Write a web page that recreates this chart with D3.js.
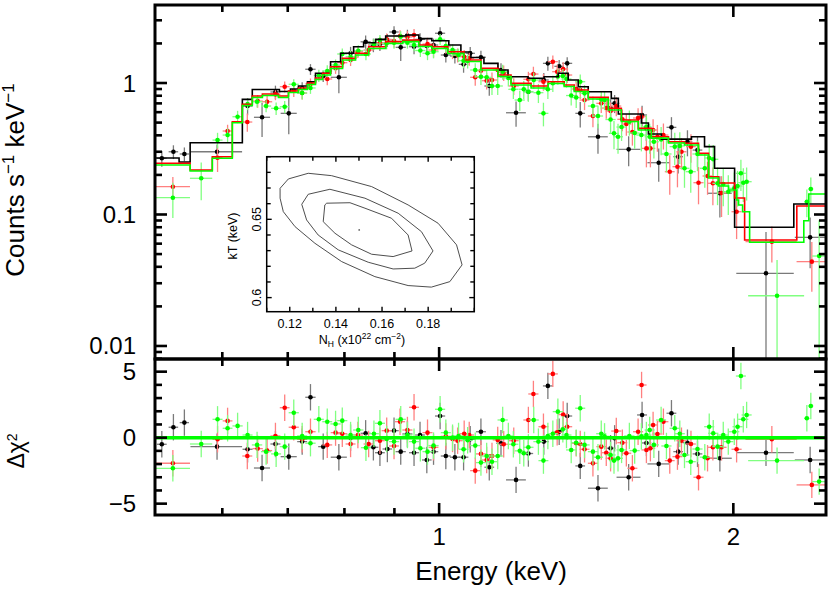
<!DOCTYPE html>
<html><head><meta charset="utf-8">
<script src="https://cdn.jsdelivr.net/npm/d3@7"></script>
<style>
body{margin:0;background:#fff;}
svg{display:block;}
text{font-family:"Liberation Sans",Arial,Helvetica,sans-serif;fill:#000;}
</style>
</head><body>
<svg id="c" width="830" height="605"></svg>
<script>
// ---------------- DATA ----------------
const xDomain = [0.512, 2.488];
const yTopDomain = [0.00796, 3.92];
const yResDomain = [-5.86, 5.96];
const xMajorTicks = [1, 2];
const xMajorLabels = ["1", "2"];
const xMinorTicks = [0.6, 0.7, 0.8, 0.9];
const yTopMajor = [0.01, 0.1, 1];
const yTopLabels = ["0.01", "0.1", "1"];
const yResMajor = [-5, 0, 5];
const yResLabels = ["\u22125", "0", "5"];

// black data group
const blackE = [0.5203,0.5347,0.5487,0.5926,0.6368,0.6589,0.680,0.7017,0.7242,0.7385,0.761,0.7896,0.8117,0.841,0.8565,0.8698,0.8852,0.8992,0.9135,0.928,0.9426,0.956,0.9714,0.9869,1.0023,1.0159,1.0378,1.0593,1.076,1.1035,1.1254,1.1569,1.1987,1.234,1.2797,1.292,1.3269,1.3522,1.3944,1.4539,1.4977,1.512,1.5629,1.6131,1.6296,1.6776,1.7287,1.7563,1.7951,1.8381,1.9376,2.16,2.3967];
const blackDE = [0.006,0.006,0.006,0.036,0.0075,0.0125,0.008,0.0133,0.0085,0.009,0.009,0.015,0.01,0.01,0.01,0.01,0.01,0.01,0.011,0.011,0.011,0.011,0.011,0.011,0.012,0.012,0.012,0.012,0.012,0.013,0.013,0.013,0.028,0.014,0.015,0.015,0.015,0.016,0.016,0.034,0.017,0.017,0.044,0.019,0.019,0.044,0.02,0.02,0.021,0.021,0.055,0.146,0.085];
const blackRate = [0.2676,0.300,0.2885,0.300,0.668,0.5485,0.8545,0.588,0.912,1.272,1.130,1.105,1.682,2.058,1.945,1.98,2.12,2.443,1.868,2.292,1.888,2.146,1.911,1.945,2.39,1.633,1.605,1.387,1.682,1.569,0.949,1.256,0.594,0.859,1.054,1.411,1.339,1.411,0.588,0.390,0.642,0.7005,0.3128,0.571,0.452,0.2477,0.46,0.2752,0.357,0.309,0.145,0.0357,0.067];
const blackErr = [0.037,0.036,0.035,0.04,0.1,0.16,0.1,0.18,0.1,0.12,0.11,0.27,0.2,0.24,0.23,0.23,0.24,0.26,0.4,0.25,0.23,0.24,0.23,0.23,0.26,0.2,0.2,0.19,0.2,0.19,0.15,0.16,0.13,0.13,0.14,0.17,0.16,0.16,0.13,0.1,0.11,0.11,0.08,0.1,0.09,0.07,0.09,0.07,0.08,0.08,0.05,0.038,0.028];
const blackRes = [-0.5,0.79,1.14,-0.68,-0.88,-2.3,-0.48,-1.44,-0.3,3.06,-0.68,-1.48,0.0,0.33,-0.73,-1.14,-0.86,0.53,-1.06,0.28,-1.14,0.2,-1.69,-1.06,1.64,-1.39,-1.48,-1.48,-0.12,0.45,-2.24,-0.42,-3.2,-1.2,-0.3,3.92,0.45,1.64,-2.14,-3.83,-0.8,-0.05,-3.0,1.72,-0.4,-1.99,1.85,-1.06,-0.38,-1.23,-1.56,-1.14,-1.69];

// red data group
const redE = [0.534,0.5933,0.6075,0.6364,0.6521,0.6668,0.680,0.695,0.71,0.7242,0.7385,0.7683,0.7835,0.796,0.8117,0.8258,0.847,0.8698,0.8838,0.8992,0.912,0.928,0.9426,0.973,0.9869,1.0159,1.0321,1.0445,1.0608,1.0735,1.0888,1.1035,1.1185,1.1326,1.148,1.1643,1.1922,1.234,1.2487,1.2786,1.3072,1.3206,1.3394,1.3522,1.3812,1.3944,1.4086,1.4367,1.4652,1.4826,1.4977,1.518,1.5398,1.5544,1.5767,1.598,1.6112,1.6296,1.645,1.6555,1.6724,1.6963,1.7218,1.7533,1.77,1.81,1.8425,1.8821,1.9059,1.9453,2.0155,2.19,2.4063];
const redDE = [0.022,0.007,0.007,0.0075,0.008,0.008,0.008,0.008,0.0085,0.0085,0.009,0.009,0.009,0.0095,0.0095,0.01,0.01,0.01,0.0105,0.0105,0.011,0.011,0.011,0.0115,0.0115,0.012,0.012,0.0125,0.0125,0.0125,0.013,0.013,0.013,0.0135,0.0135,0.014,0.014,0.0145,0.015,0.015,0.0155,0.0155,0.016,0.016,0.016,0.0165,0.0165,0.017,0.017,0.0175,0.0175,0.018,0.018,0.018,0.0185,0.019,0.019,0.019,0.019,0.0195,0.0195,0.02,0.02,0.0205,0.021,0.021,0.022,0.022,0.022,0.023,0.024,0.132,0.085];
const redRate = [0.1627,0.2704,0.4314,0.505,0.729,0.720,0.820,0.9376,0.874,0.839,0.983,1.0726,1.294,1.427,1.496,1.730,1.782,2.025,2.146,2.083,2.28,2.24,2.32,1.979,1.782,1.888,1.730,1.633,1.585,1.541,1.105,1.2406,1.041,1.054,1.256,1.198,0.949,1.067,1.170,1.023,1.452,1.219,1.278,1.15,0.9007,0.885,0.742,0.561,0.7005,0.645,0.612,0.668,0.5295,0.4875,0.4239,0.5417,0.554,0.3183,0.3183,0.439,0.390,0.402,0.2116,0.2309,0.300,0.328,0.1745,0.1962,0.1727,0.1457,0.105,0.0621,0.0438];
const redErr = [0.03,0.06,0.05,0.08,0.08,0.08,0.08,0.09,0.09,0.09,0.1,0.11,0.12,0.13,0.15,0.18,0.19,0.22,0.23,0.23,0.24,0.24,0.25,0.23,0.22,0.22,0.21,0.2,0.2,0.19,0.15,0.17,0.15,0.15,0.17,0.16,0.14,0.15,0.16,0.15,0.17,0.16,0.16,0.15,0.13,0.13,0.12,0.1,0.11,0.11,0.1,0.11,0.1,0.09,0.09,0.1,0.1,0.09,0.09,0.09,0.09,0.09,0.07,0.07,0.08,0.08,0.055,0.055,0.055,0.05,0.04,0.019,0.018];
const redRes = [-1.94,-0.12,1.27,-1.39,-0.83,-0.98,0.13,2.27,0.79,-0.12,0.45,-0.55,0.38,0.3,-0.48,0.2,-0.48,-0.23,0.53,-0.63,1.21,0.58,2.3,0.38,-0.73,0.1,-0.1,-0.23,0.3,0.2,-2.5,-1.23,-1.69,-1.39,-0.17,-0.5,-0.23,1.34,3.31,0.83,4.83,0.4,1.75,0.83,-0.42,-0.48,-0.88,-1.94,-0.68,-1.14,-1.56,0.5,-0.38,-1.18,-2.32,0.45,3.99,-0.93,-0.8,0.96,0.28,1.21,-1.74,-1.44,-0.23,-0.48,-3.0,-1.56,-0.73,-0.73,-0.88,-0.12,-3.58];

// green data group
const greenE = [0.534,0.5709,0.5933,0.6075,0.622,0.6368,0.6512,0.6652,0.6811,0.695,0.71,0.7242,0.7385,0.7532,0.7683,0.7835,0.796,0.8117,0.8266,0.8416,0.8576,0.8698,0.8838,0.8992,0.9135,0.928,0.9426,0.9567,0.973,0.9869,1.0023,1.0159,1.0321,1.0468,1.0593,1.0695,1.0888,1.1035,1.1185,1.1326,1.148,1.1615,1.1771,1.1911,1.2092,1.2207,1.234,1.2497,1.2635,1.2786,1.292,1.3072,1.3228,1.3384,1.3499,1.365,1.3812,1.3944,1.4086,1.4367,1.4539,1.4652,1.4766,1.4977,1.5098,1.5242,1.537,1.5655,1.5852,1.6104,1.6296,1.6423,1.6586,1.6871,1.7084,1.7422,1.763,1.7826,1.8091,1.8381,1.87,1.8896,1.9076,1.927,1.9531,1.9764,2.0045,2.0202,2.036,2.0475,2.0637,2.217,2.3782,2.4006,2.4481];
const greenDE = [0.022,0.015,0.007,0.007,0.0075,0.0075,0.008,0.008,0.008,0.008,0.0085,0.0085,0.009,0.009,0.009,0.0095,0.0095,0.0095,0.01,0.01,0.01,0.0105,0.0105,0.011,0.011,0.011,0.011,0.0115,0.0115,0.012,0.012,0.012,0.0125,0.0125,0.0125,0.013,0.013,0.013,0.0135,0.0135,0.014,0.014,0.014,0.014,0.0145,0.0145,0.015,0.015,0.015,0.015,0.0155,0.0155,0.016,0.016,0.016,0.0165,0.0165,0.0165,0.017,0.017,0.0175,0.0175,0.0175,0.018,0.018,0.018,0.0185,0.019,0.019,0.019,0.0195,0.0195,0.02,0.02,0.0205,0.021,0.021,0.021,0.0215,0.022,0.022,0.0225,0.023,0.023,0.0235,0.0235,0.024,0.024,0.024,0.0245,0.0245,0.146,0.014,0.014,0.04];
const greenRate = [0.1342,0.1885,0.368,0.402,0.554,0.692,0.720,0.668,0.642,0.660,0.978,0.839,0.9166,1.14,1.234,1.37,1.662,1.585,1.760,1.662,1.979,2.12,2.004,2.025,2.26,2.025,1.945,1.766,1.682,1.730,2.146,1.911,1.782,1.633,1.478,1.470,1.256,1.116,1.105,0.949,0.949,1.219,1.0916,0.896,0.742,0.896,0.859,1.054,0.844,0.588,0.896,0.995,1.12,1.130,1.0726,0.803,0.775,1.023,0.834,0.668,0.561,0.751,0.742,0.5276,0.414,0.390,0.4625,0.5077,0.4163,0.402,0.465,0.390,0.357,0.3726,0.2885,0.328,0.332,0.2246,0.2116,0.2885,0.2246,0.269,0.2629,0.1727,0.1706,0.1491,0.1582,0.1647,0.2057,0.1745,0.1776,0.0241,0.1251,0.1563,0.0483];
const greenErr = [0.04,0.06,0.05,0.05,0.06,0.07,0.07,0.07,0.07,0.07,0.09,0.09,0.09,0.12,0.13,0.14,0.17,0.17,0.18,0.17,0.19,0.2,0.2,0.2,0.21,0.2,0.2,0.19,0.19,0.19,0.21,0.2,0.19,0.19,0.18,0.18,0.16,0.15,0.15,0.14,0.14,0.16,0.15,0.14,0.13,0.14,0.14,0.15,0.14,0.12,0.14,0.14,0.15,0.15,0.15,0.13,0.13,0.14,0.13,0.12,0.11,0.12,0.12,0.11,0.1,0.1,0.1,0.11,0.1,0.1,0.1,0.1,0.09,0.09,0.08,0.09,0.09,0.065,0.065,0.075,0.065,0.075,0.075,0.055,0.055,0.05,0.05,0.05,0.055,0.05,0.05,0.021,0.03,0.035,0.042];
const greenRes = [-2.32,-0.48,1.39,0.71,0.89,0.2,-0.55,-1.06,-1.23,-0.68,1.89,0.13,-0.42,1.39,1.21,1.04,1.29,0.2,0.58,-0.76,0.3,1.09,-0.1,-0.3,1.39,0.2,-0.3,-0.8,-1.06,-0.6,2.15,0.38,0.0,0.13,-0.88,-0.2,-0.6,-1.89,-1.39,-1.82,-1.39,1.34,0.13,-0.5,-1.0,-1.18,-0.73,1.34,-0.3,-1.74,0.13,0.3,1.97,0.64,0.2,-0.93,-0.38,2.23,-0.55,-1.06,-1.48,0.3,0.1,-1.31,-1.74,-1.56,-0.93,0.13,-0.98,0.1,0.2,0.58,-0.55,1.34,-0.63,0.71,0.3,-1.31,-1.82,-0.86,-1.48,0.83,0.33,-0.68,0.2,-0.3,0.45,0.83,4.67,1.39,1.72,-1.74,1.47,2.4,-3.33];

// folded models (step functions: bin edges + bin values)
const blackModelEdges = [0.5121,0.5419,0.5562,0.629,0.6439,0.6864,0.7045,0.7179,0.7333,0.7473,0.7743,0.7928,0.8175,0.837,0.8611,0.8817,0.9244,0.9532,0.9829,1.0231,1.0526,1.0778,1.1113,1.1487,1.1762,1.2331,1.2806,1.3237,1.3554,1.3878,1.4209,1.5002,1.5253,1.6104,1.6373,1.6883,1.8122,1.8688,1.9135,2.006,2.3062,2.49];
const blackModel = [0.269,0.2508,0.351,0.751,0.893,0.862,0.9007,0.949,1.023,1.185,1.452,1.682,1.888,2.022,2.146,2.28,2.32,2.177,2.094,1.945,1.721,1.563,1.411,1.256,1.116,1.086,1.116,1.185,1.054,0.9376,0.859,0.764,0.581,0.496,0.409,0.3745,0.390,0.328,0.2246,0.0799,0.1202];
const redModelEdges = [0.5121,0.5562,0.586,0.6143,0.629,0.6439,0.6594,0.6848,0.7012,0.7179,0.7333,0.7473,0.7598,0.7743,0.7966,0.8213,0.847,0.8817,0.9178,0.9532,0.9829,1.0207,1.0601,1.1035,1.1487,1.1846,1.2419,1.2928,1.3426,1.3747,1.4209,1.4896,1.5361,1.599,1.6489,1.7165,1.7826,1.8425,1.8866,1.9316,2.006,2.0539,2.3226,2.49];
const redModel = [0.2451,0.218,0.2752,0.5077,0.6884,0.796,0.824,0.796,0.8696,0.9166,1.0,1.0916,1.185,1.33,1.541,1.682,1.888,2.058,2.12,1.945,1.888,1.730,1.496,1.294,1.15,0.995,0.949,1.023,0.966,0.885,0.778,0.642,0.523,0.452,0.390,0.357,0.348,0.292,0.1938,0.1736,0.1335,0.064,0.116];
const greenModelEdges = [0.5121,0.5562,0.586,0.6143,0.629,0.6439,0.6594,0.6848,0.7012,0.7179,0.7333,0.7473,0.7598,0.7743,0.7966,0.8213,0.847,0.8817,0.9178,0.9532,0.9829,1.0207,1.0601,1.1035,1.1487,1.1846,1.2419,1.2928,1.3426,1.3747,1.4209,1.4896,1.5361,1.599,1.6489,1.7165,1.7826,1.8425,1.8866,1.9316,1.9777,2.0155,2.025,2.0442,2.0783,2.3613,2.3893,2.49];
const greenModel = [0.2379,0.2142,0.2676,0.4989,0.674,0.7753,0.803,0.7753,0.847,0.893,0.9745,1.0633,1.15,1.2895,1.496,1.633,1.8296,1.997,2.065,1.894,1.83,1.677,1.457,1.256,1.12,0.966,0.9166,0.9918,0.941,0.862,0.755,0.623,0.5094,0.439,0.381,0.350,0.338,0.2835,0.1895,0.1647,0.1536,0.1289,0.1181,0.105,0.0615,0.0897,0.1432];

// inset: confidence contours NH vs kT
const insetXDomain = [0.11, 0.2];
const insetYDomain = [0.591, 0.69];
const insetXMajor = [0.12, 0.14, 0.16, 0.18];
const insetXLabels = ["0.12", "0.14", "0.16", "0.18"];
const insetYMajor = [0.6, 0.65];
const insetYLabels = ["0.6", "0.65"];
const contourOuter = [[0.1158,0.6698],[0.1194,0.6758],[0.1280,0.6794],[0.1381,0.6779],[0.1555,0.6709],[0.1713,0.6592],[0.1843,0.6475],[0.1923,0.6337],[0.1947,0.6209],[0.1894,0.6102],[0.1814,0.6067],[0.1713,0.6077],[0.1569,0.6134],[0.1425,0.6230],[0.1309,0.6347],[0.1223,0.6453],[0.1172,0.6549],[0.1158,0.6635]];
const contourMid = [[0.1252,0.6596],[0.1280,0.6660],[0.1374,0.6692],[0.1526,0.6635],[0.1670,0.6539],[0.1771,0.6421],[0.1821,0.6298],[0.1785,0.6220],[0.1742,0.6188],[0.1648,0.6183],[0.1540,0.6226],[0.1410,0.6305],[0.1323,0.6400],[0.1273,0.6496]];
const contourInner = [[0.1360,0.6603],[0.1461,0.6606],[0.1526,0.6571],[0.1641,0.6507],[0.1713,0.6400],[0.1730,0.6298],[0.1648,0.6262],[0.1555,0.6277],[0.1468,0.6337],[0.1396,0.6411],[0.1345,0.6485],[0.1352,0.6592]];
const bestFit = [0.1501, 0.6432];

// ---------------- LAYOUT ----------------
const W = 830, H = 605;
const L = 155, R = 826, T = 5, M = 359, B = 515;
const x = d3.scaleLog().domain(xDomain).range([L, R]);
const yT = d3.scaleLog().domain(yTopDomain).range([M, T]);
const yR = d3.scaleLinear().domain(yResDomain).range([B, M]);

const svg = d3.select('#c');
svg.append('rect').attr('width', W).attr('height', H).attr('fill', '#fff');
const defs = svg.append('defs');
defs.append('clipPath').attr('id', 'clipT').append('rect').attr('x', L).attr('y', T).attr('width', R - L).attr('height', M - T);
defs.append('clipPath').attr('id', 'clipR').append('rect').attr('x', L).attr('y', M).attr('width', R - L).attr('height', B - M);
const gT = svg.append('g').attr('clip-path', 'url(#clipT)');
const gR = svg.append('g').attr('clip-path', 'url(#clipR)');

const series = [
  {E: blackE, dE: blackDE, rate: blackRate, err: blackErr, res: blackRes, edges: blackModelEdges, model: blackModel, col: '#000000', ecol: '#7a7a7a'},
  {E: redE, dE: redDE, rate: redRate, err: redErr, res: redRes, edges: redModelEdges, model: redModel, col: '#ff0000', ecol: '#ff8080'},
  {E: greenE, dE: greenDE, rate: greenRate, err: greenErr, res: greenRes, edges: greenModelEdges, model: greenModel, col: '#00ff00', ecol: '#80ff80'}
];

series.forEach(s => {
  const idx = d3.range(s.E.length);
  // top panel error bars
  const ge = gT.append('g').attr('stroke', s.ecol).attr('stroke-width', 1.3);
  ge.append('g').selectAll('line').data(idx).join('line')
    .attr('x1', i => x(s.E[i])).attr('x2', i => x(s.E[i]))
    .attr('y1', i => { const lo = s.rate[i] - s.err[i]; return lo > yTopDomain[0] ? yT(lo) : M + 5; })
    .attr('y2', i => yT(s.rate[i] + s.err[i]));
  ge.append('g').selectAll('line').data(idx).join('line')
    .attr('x1', i => x(s.E[i] - s.dE[i])).attr('x2', i => x(s.E[i] + s.dE[i]))
    .attr('y1', i => yT(s.rate[i])).attr('y2', i => yT(s.rate[i]));
  gT.append('g').selectAll('circle').data(idx).join('circle')
    .attr('cx', i => x(s.E[i])).attr('cy', i => yT(s.rate[i])).attr('r', 2.3).attr('fill', s.col);
  // residual panel
  const gr = gR.append('g').attr('stroke', s.ecol).attr('stroke-width', 1.3);
  gr.append('g').selectAll('line').data(idx).join('line')
    .attr('x1', i => x(s.E[i])).attr('x2', i => x(s.E[i]))
    .attr('y1', i => yR(s.res[i] - 1)).attr('y2', i => yR(s.res[i] + 1));
  gr.append('g').selectAll('line').data(idx).join('line')
    .attr('x1', i => x(s.E[i] - s.dE[i])).attr('x2', i => x(s.E[i] + s.dE[i]))
    .attr('y1', i => yR(s.res[i])).attr('y2', i => yR(s.res[i]));
  gR.append('g').selectAll('circle').data(idx).join('circle')
    .attr('cx', i => x(s.E[i])).attr('cy', i => yR(s.res[i])).attr('r', 2.3).attr('fill', s.col);
});

// model step lines
const stepLine = d3.line().x(d => x(d[0])).y(d => yT(d[1])).curve(d3.curveStepAfter);
series.forEach(s => {
  const pts = s.edges.map((e, i) => [e, s.model[Math.min(i, s.model.length - 1)]]);
  gT.append('path').attr('d', stepLine(pts)).attr('fill', 'none').attr('stroke', s.col).attr('stroke-width', 1.6);
});

// zero line in residuals
gR.append('line').attr('x1', L).attr('x2', R).attr('y1', yR(0)).attr('y2', yR(0))
  .attr('stroke', '#00ff00').attr('stroke-width', 3.5);

// ---------------- AXES ----------------
const ax = svg.append('g').attr('stroke', '#000').attr('stroke-linecap', 'butt');
function tk(x1, y1, x2, y2, w) { ax.append('line').attr('x1', x1).attr('y1', y1).attr('x2', x2).attr('y2', y2).attr('stroke-width', w || 2.6); }

[[T, 1], [M, -1], [M, 1], [B, -1]].forEach(([y0, dir]) => {
  xMajorTicks.forEach(v => tk(x(v), y0, x(v), y0 + dir * 12));
  xMinorTicks.forEach(v => tk(x(v), y0, x(v), y0 + dir * 7));
});
const topMinor = [];
[0.001, 0.01, 0.1, 1].forEach(d => { for (let k = 2; k <= 9; k++) { const v = k * d; if (v > yTopDomain[0] && v < yTopDomain[1]) topMinor.push(v); } });
[[L, 1], [R, -1]].forEach(([x0, dir]) => {
  yTopMajor.forEach(v => tk(x0, yT(v), x0 + dir * 12, yT(v)));
  topMinor.forEach(v => tk(x0, yT(v), x0 + dir * 7, yT(v)));
  yResMajor.forEach(v => tk(x0, yR(v), x0 + dir * 12, yR(v)));
  d3.range(-5, 6).filter(v => v % 5 !== 0).forEach(v => tk(x0, yR(v), x0 + dir * 7, yR(v)));
});
svg.append('rect').attr('x', L).attr('y', T).attr('width', R - L).attr('height', M - T).attr('fill', 'none').attr('stroke', '#000').attr('stroke-width', 3);
svg.append('rect').attr('x', L).attr('y', M).attr('width', R - L).attr('height', B - M).attr('fill', 'none').attr('stroke', '#000').attr('stroke-width', 3);

const lab = svg.append('g').attr('font-size', 24);
yTopMajor.forEach((v, i) => lab.append('text').attr('x', 136).attr('y', yT(v) + 8.5).attr('text-anchor', 'end').text(yTopLabels[i]));
yResMajor.forEach((v, i) => lab.append('text').attr('x', 136).attr('y', yR(v) + 8.5).attr('text-anchor', 'end').text(yResLabels[i]));
xMajorTicks.forEach((v, i) => lab.append('text').attr('x', x(v)).attr('y', B + 30).attr('text-anchor', 'middle').text(xMajorLabels[i]));

svg.append('text').attr('x', 491).attr('y', 580).attr('text-anchor', 'middle').attr('font-size', 26).text('Energy (keV)');
const yt = svg.append('text').attr('transform', 'translate(24,180) rotate(-90)').attr('text-anchor', 'middle').attr('font-size', 26);
yt.append('tspan').text('Counts s');
yt.append('tspan').attr('font-size', 17).attr('dy', -10).text('\u22121');
yt.append('tspan').attr('dy', 10).text(' keV');
yt.append('tspan').attr('font-size', 17).attr('dy', -10).text('\u22121');
const rt = svg.append('text').attr('transform', 'translate(24,451) rotate(-90)').attr('text-anchor', 'middle').attr('font-size', 23);
rt.append('tspan').text('\u0394\u03c7');
rt.append('tspan').attr('font-size', 14).attr('dy', -7).text('2');

// ---------------- INSET ----------------
const iL = 266.7, iR = 474.3, iT = 156.7, iB = 311.7;
const ix = d3.scaleLinear().domain(insetXDomain).range([iL, iR]);
const iy = d3.scaleLinear().domain(insetYDomain).range([iB, iT]);
const gi = svg.append('g');
gi.append('rect').attr('x', iL).attr('y', iT).attr('width', iR - iL).attr('height', iB - iT).attr('fill', '#fff');
const cl = d3.line().x(d => ix(d[0])).y(d => iy(d[1])).curve(d3.curveLinearClosed);
[contourOuter, contourMid, contourInner].forEach(c => {
  gi.append('path').attr('d', cl(c)).attr('fill', 'none').attr('stroke', '#3a3a3a').attr('stroke-width', 0.9);
});
gi.append('circle').attr('cx', ix(bestFit[0])).attr('cy', iy(bestFit[1])).attr('r', 0.9).attr('fill', '#666');
const itk = gi.append('g').attr('stroke', '#000').attr('stroke-width', 1.4);
d3.range(0.11, 0.2001, 0.01).forEach(v => {
  const major = insetXMajor.some(m => Math.abs(m - v) < 1e-6);
  const len = major ? 5 : 4;
  itk.append('line').attr('x1', ix(v)).attr('x2', ix(v)).attr('y1', iB).attr('y2', iB - len);
  itk.append('line').attr('x1', ix(v)).attr('x2', ix(v)).attr('y1', iT).attr('y2', iT + len);
});
d3.range(0.60, 0.6901, 0.01).forEach(v => {
  const major = insetYMajor.some(m => Math.abs(m - v) < 1e-6);
  const len = major ? 5 : 4;
  itk.append('line').attr('x1', iL).attr('x2', iL + len).attr('y1', iy(v)).attr('y2', iy(v));
  itk.append('line').attr('x1', iR).attr('x2', iR - len).attr('y1', iy(v)).attr('y2', iy(v));
});
gi.append('rect').attr('x', iL).attr('y', iT).attr('width', iR - iL).attr('height', iB - iT).attr('fill', 'none').attr('stroke', '#000').attr('stroke-width', 1.5);
const il = gi.append('g').attr('font-size', 12.5);
insetXMajor.forEach((v, i) => il.append('text').attr('x', ix(v)).attr('y', 328).attr('text-anchor', 'middle').text(insetXLabels[i]));
insetYMajor.forEach((v, i) => il.append('text').attr('transform', `translate(260.5,${iy(v)}) rotate(-90)`).attr('text-anchor', 'middle').text(insetYLabels[i]));
const nh = gi.append('text').attr('x', 362).attr('y', 344).attr('text-anchor', 'middle').attr('font-size', 12.5);
nh.append('tspan').text('N');
nh.append('tspan').attr('font-size', 8.5).attr('dy', 3).text('H');
nh.append('tspan').attr('dy', -3).text(' (x10');
nh.append('tspan').attr('font-size', 8.5).attr('dy', -5).text('22');
nh.append('tspan').attr('dy', 5).text(' cm');
nh.append('tspan').attr('font-size', 8.5).attr('dy', -5).text('\u22122');
nh.append('tspan').attr('dy', 5).text(')');
gi.append('text').attr('transform', 'translate(237,236) rotate(-90)').attr('text-anchor', 'middle').attr('font-size', 12.5).text('kT (keV)');
</script>
</body></html>
